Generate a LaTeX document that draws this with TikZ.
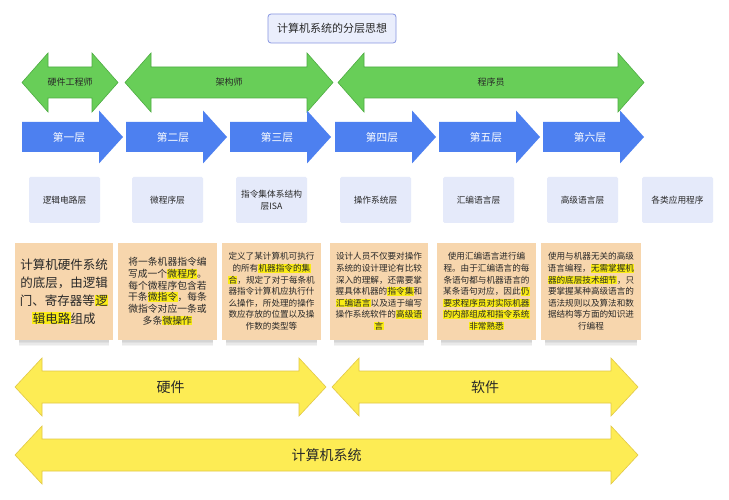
\documentclass[tikz,border=0pt]{standalone}
\usepackage{fontspec}
\setmainfont{Noto Sans CJK SC}
\definecolor{gfill}{RGB}{104,206,88}
\definecolor{gdraw}{RGB}{78,172,66}
\definecolor{bfill}{RGB}{77,128,240}
\definecolor{grayb}{RGB}{229,234,250}
\definecolor{orangeb}{RGB}{247,214,173}
\definecolor{yfill}{RGB}{253,236,84}
\definecolor{ydraw}{RGB}{226,200,70}
\definecolor{hly}{RGB}{250,236,20}
\definecolor{titlef}{RGB}{234,238,252}
\definecolor{titled}{RGB}{135,150,225}
\definecolor{txt}{RGB}{40,40,40}
\newcommand{\hlt}[1]{{\setlength{\fboxsep}{0.3pt}\colorbox{hly}{#1}}}
% double arrow: style, name, x1, x2, yc, half head, half shaft, head length
\newcommand{\DblArrow}[8]{%
  \draw[#1] (#3,#5) -- ({#3+#8},{#5-#6}) -- ({#3+#8},{#5-#7}) -- ({#4-#8},{#5-#7}) -- ({#4-#8},{#5-#6}) -- (#4,#5) -- ({#4-#8},{#5+#6}) -- ({#4-#8},{#5+#7}) -- ({#3+#8},{#5+#7}) -- ({#3+#8},{#5+#6}) -- cycle;
  \coordinate (#2) at ({(#3+#4)/2},#5);}
% right arrow
\newcommand{\RArrow}[8]{%
  \draw[#1] (#3,{#5-#7}) -- ({#4-#8},{#5-#7}) -- ({#4-#8},{#5-#6}) -- (#4,#5) -- ({#4-#8},{#5+#6}) -- ({#4-#8},{#5+#7}) -- (#3,{#5+#7}) -- cycle;
  \coordinate (#2) at ({#3+47},#5);}
\newcommand{\OShadow}[2]{%
  \foreach \k in {1,...,4} {\fill[black,opacity=0.045] ({#1+4},330) rectangle ({#2-4},{340+1.6*\k});}}
\tikzset{
  greenarrow/.style={fill=gfill,draw=gdraw,line width=0.6pt,line join=miter},
  bluearrow/.style={fill=bfill,draw=none},
  yellowarrow/.style={fill=yfill,draw=ydraw,line width=0.6pt,line join=miter},
  glabel/.style={font=\fontsize{9}{11}\selectfont,text=txt},
  blabel/.style={font=\fontsize{10.7}{12}\selectfont,text=white},
  ylabel/.style={font=\fontsize{14}{16}\selectfont,text=txt},
  graybox/.style={fill=grayb,draw=none,rounded corners=1.5pt,minimum width=71pt,minimum height=46pt,align=center,font=\fontsize{8.7}{12}\selectfont,text=txt,inner sep=0pt},
  obox/.style={fill=orangeb,draw=none,minimum height=97pt,inner sep=0pt},
  otext/.style={align=center,text=txt,inner sep=0pt,font=\fontsize{8.6}{11.6}\selectfont},
  titlebox/.style={fill=titlef,draw=titled,line width=0.8pt,rounded corners=3pt,minimum width=128pt,minimum height=29pt,font=\fontsize{11}{13}\selectfont,text=txt}
}
\begin{document}
\begin{tikzpicture}[x=1pt,y=-1pt]
\fill[white] (0,0) rectangle (729,500);
\useasboundingbox (0,0) rectangle (729,500);

\node[titlebox] (title) at (332,28.5) {计算机系统的分层思想};

% green role arrows
\DblArrow{greenarrow}{hw}{22}{118}{82.5}{29.5}{15.5}{26}
\DblArrow{greenarrow}{arch}{125}{333}{82.5}{29.5}{15.5}{26}
\DblArrow{greenarrow}{prog}{338}{644}{82.5}{29.5}{15.5}{26}
\node[glabel] (lhw) at (hw) {硬件工程师};
\node[glabel] (larch) at (arch) {架构师};
\node[glabel] (lprog) at (prog) {程序员};

% blue layer arrows
\RArrow{bluearrow}{b1}{22}{123}{137}{26.5}{15}{24}
\RArrow{bluearrow}{b2}{126}{227}{137}{26.5}{15}{24}
\RArrow{bluearrow}{b3}{230}{331}{137}{26.5}{15}{24}
\RArrow{bluearrow}{b4}{335}{436}{137}{26.5}{15}{24}
\RArrow{bluearrow}{b5}{439}{540}{137}{26.5}{15}{24}
\RArrow{bluearrow}{b6}{543}{644}{137}{26.5}{15}{24}
\node[blabel] (lb1) at (b1) {第一层};
\node[blabel] (lb2) at (b2) {第二层};
\node[blabel] (lb3) at (b3) {第三层};
\node[blabel] (lb4) at (b4) {第四层};
\node[blabel] (lb5) at (b5) {第五层};
\node[blabel] (lb6) at (b6) {第六层};

% gray layer boxes
\node[graybox] (g1) at (64.5,200) {逻辑电路层};
\node[graybox] (g2) at (167.5,200) {微程序层};
\node[graybox] (g3) at (271.5,200) {指令集体系结构\\层ISA};
\node[graybox] (g4) at (375.5,200) {操作系统层};
\node[graybox] (g5) at (478.5,200) {汇编语言层};
\node[graybox] (g6) at (582.5,200) {高级语言层};
\node[graybox] (g7) at (677.5,200) {各类应用程序};

% orange description boxes
\OShadow{15}{113}
\OShadow{118}{217}
\OShadow{222}{321}
\OShadow{330}{428}
\OShadow{437}{536}
\OShadow{541}{641}
\node[obox,minimum width=98pt] (o1) at (64,291.5) {};
\node[obox,minimum width=99pt] (o2) at (167.5,291.5) {};
\node[obox,minimum width=99pt] (o3) at (271.5,291.5) {};
\node[obox,minimum width=98pt] (o4) at (379,291.5) {};
\node[obox,minimum width=99pt] (o5) at (486.5,291.5) {};
\node[obox,minimum width=100pt] (o6) at (591,291.5) {};

\node[otext,font=\fontsize{12.5}{18}\selectfont] (t1) at (o1) {计算机硬件系统\\的底层，由逻辑\\门、寄存器等\hlt{逻}\\\hlt{辑电路}组成};
\node[otext,font=\fontsize{9.8}{11.7}\selectfont] (t2) at (o2) {将一条机器指令编\\写成一个\hlt{微程序}。\\每个微程序包含若\\干条\hlt{微指令}，每条\\微指令对应一条或\\多条\hlt{微操作}};
\node[otext] (t3) at (o3) {定义了某计算机可执行\\的所有\hlt{机器指令的集}\\\hlt{合}，规定了对于每条机\\器指令计算机应执行什\\么操作，所处理的操作\\数应存放的位置以及操\\作数的类型等};
\node[otext] (t4) at (o4) {设计人员不仅要对操作\\系统的设计理论有比较\\深入的理解，还需要掌\\握具体机器的\hlt{指令集}和\\\hlt{汇编语言}以及适于编写\\操作系统软件的\hlt{高级语}\\\hlt{言}};
\node[otext] (t5) at (o5) {使用汇编语言进行编\\程。由于汇编语言的每\\条语句都与机器语言的\\某条语句对应，因此\hlt{仍}\\\hlt{要求程序员对实际机器}\\\hlt{的内部组成和指令系统}\\\hlt{非常熟悉}};
\node[otext] (t6) at (o6) {使用与机器无关的高级\\语言编程，\hlt{无需掌握机}\\\hlt{器的底层技术细节}，只\\要掌握某种高级语言的\\语法规则以及算法和数\\据结构等方面的知识进\\行编程};

% yellow arrows
\DblArrow{yellowarrow}{hard}{15}{326}{387}{29}{16}{27}
\DblArrow{yellowarrow}{soft}{332}{638}{387}{29}{16}{27}
\DblArrow{yellowarrow}{sys}{15}{638}{455}{29}{16}{27}
\node[ylabel] (lhard) at (hard) {硬件};
\node[ylabel] (lsoft) at (soft) {软件};
\node[ylabel] (lsys) at (sys) {计算机系统};
\end{tikzpicture}
\end{document}
